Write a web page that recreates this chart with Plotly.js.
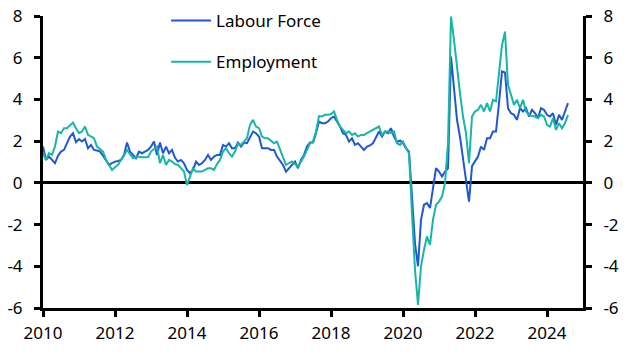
<!DOCTYPE html>
<html>
<head>
<meta charset="utf-8">
<script src="https://cdn.plot.ly/plotly-3.0.1.min.js"></script>
<style>
html,body{margin:0;padding:0;background:#fff;}
#chart{width:629px;height:355px;}
</style>
</head>
<body>
<div id="chart"></div>
<script>
// Monthly series, first observation January 2010
var startYear = 2010;
var seriesNames = ["Labour Force", "Employment"];
var tickYears = [2010, 2012, 2014, 2016, 2018, 2020, 2022, 2024];
var yTicks = [-6, -4, -2, 0, 2, 4, 6, 8];

var labourForce = [
1.74,1.1,1.26,1.1,0.94,1.3,1.5,1.58,1.9,2.22,2.38,1.95,
2.1,1.98,2.1,1.66,1.82,1.58,1.55,1.5,1.3,1.1,0.86,0.95,
1.02,1.05,1.1,1.34,1.93,1.5,1.34,1.18,1.5,1.42,1.5,1.58,
1.74,1.98,1.34,1.93,1.42,1.74,1.42,1.58,1.2,1.02,1.1,0.94,
0.62,0.46,0.62,1.02,0.86,0.94,1.1,1.34,1.1,1.26,1.34,1.34,
1.82,1.74,1.9,1.66,1.66,1.93,1.74,1.93,1.9,2.22,2.46,2.38,
2.22,1.66,1.66,1.66,1.58,1.58,1.26,1.05,0.86,0.54,0.7,0.86,
1.02,0.7,1.1,1.34,1.74,1.93,1.93,2.38,2.94,2.86,2.86,2.94,
3.1,3.18,2.94,2.7,2.38,2.3,1.98,2.14,1.82,1.9,1.74,1.58,
1.74,1.8,1.9,2.22,2.46,2.22,2.46,2.38,2.62,2.22,1.95,2.03,
1.9,1.66,1.5,-0.66,-2.9,-4.0,-1.77,-1.05,-0.97,-1.21,-0.18,0.7,
0.54,0.3,0.54,0.7,6.05,4.62,3.02,2.2,1.1,0.14,-0.9,0.8,
1.0,1.26,1.74,1.58,2.14,2.14,2.46,2.46,3.82,5.34,5.29,3.58,
3.34,3.26,3.02,3.58,3.42,3.58,3.18,3.5,3.34,3.1,3.58,3.5,
3.26,3.18,3.34,2.78,3.26,3.02,3.42,3.82
];

var employment = [
1.42,1.1,1.42,1.34,1.74,2.46,2.38,2.62,2.62,2.75,2.89,2.62,
2.38,2.46,2.7,2.3,2.2,2.14,1.74,1.6,1.5,1.1,0.85,0.62,
0.75,0.86,1.1,1.3,1.58,1.4,1.18,1.26,1.23,1.23,1.23,1.23,
1.5,1.62,1.74,0.94,1.34,0.86,1.1,1.02,0.9,0.86,0.7,0.54,
-0.1,0.3,0.7,0.54,0.54,0.54,0.62,0.7,0.7,0.62,0.9,1.1,
1.5,1.66,1.42,1.26,1.5,1.87,1.82,1.98,2.14,2.78,3.02,2.7,
2.62,2.22,2.14,2.14,2.0,1.9,1.98,1.58,1.18,0.86,0.94,1.02,
0.9,0.78,1.02,1.26,1.58,1.9,1.98,2.46,3.2,3.18,3.26,3.26,
3.3,3.42,3.02,2.7,2.54,2.38,2.46,2.3,2.38,2.22,2.3,2.3,
2.38,2.46,2.54,2.62,2.7,2.3,2.46,2.46,2.38,2.46,1.9,1.82,
1.98,1.66,1.42,-1.5,-4.17,-5.85,-4.0,-3.21,-2.57,-2.97,-1.77,-1.05,
-0.9,-0.66,0,1.9,7.97,6.86,5.42,4.3,3.18,2.38,0.94,3.18,
3.42,3.5,3.74,3.42,3.82,3.42,3.98,3.9,5.26,6.6,7.25,4.7,
4.22,3.74,3.98,3.58,3.98,3.42,3.26,3.2,3.18,3.1,3.26,3.18,
2.78,2.7,3.1,2.54,2.86,2.62,2.86,3.26
];

var fontFamily = '"Noto Sans", "Open Sans", sans-serif';

var traces = [
  {
    type: 'scatter', mode: 'lines', name: seriesNames[0],
    x0: startYear, dx: 1/12, y: labourForce,
    line: {color: '#2356d2', width: 2},
    legend: 'legend', yaxis: 'y'
  },
  {
    type: 'scatter', mode: 'lines', name: seriesNames[1],
    x0: startYear, dx: 1/12, y: employment,
    line: {color: '#17b6a6', width: 2},
    legend: 'legend2', yaxis: 'y2'
  }
];

var axisCommon = {
  range: [-6, 8], tickvals: yTicks, ticktext: yTicks.map(String),
  showgrid: false, showline: true, linecolor: '#000', linewidth: 3,
  ticks: 'outside', ticklen: 6, tickwidth: 3, tickcolor: '#000',
  ticklabelstandoff: 8,
  tickfont: {family: fontFamily, size: 17, color: '#000'},
  fixedrange: true, automargin: false
};

var legendCommon = {
  xref: 'paper', yref: 'paper', xanchor: 'left', yanchor: 'middle',
  bgcolor: 'rgba(0,0,0,0)', borderwidth: 0,
  font: {family: fontFamily, size: 17, color: '#000'},
  itemwidth: 40
};

var layout = {
  width: 629, height: 355,
  margin: {l: 43, r: 46, t: 16, b: 47, autoexpand: false},
  paper_bgcolor: '#fff', plot_bgcolor: '#fff',
  font: {family: fontFamily, size: 17, color: '#000'},
  showlegend: true,
  legend: Object.assign({}, legendCommon, {x: 0.228, y: 0.983}),
  legend2: Object.assign({}, legendCommon, {x: 0.228, y: 0.842}),
  xaxis: {
    range: [2010, 2025], tickvals: tickYears, ticktext: tickYears.map(String),
    showgrid: false, zeroline: false, showline: true, linecolor: '#000', linewidth: 3,
    ticks: 'outside', ticklen: 6, tickwidth: 3, tickcolor: '#000',
    ticklabelstandoff: 2,
    tickfont: {family: fontFamily, size: 17, color: '#000'},
    fixedrange: true, automargin: false
  },
  yaxis: Object.assign({}, axisCommon, {
    side: 'left', zeroline: true, zerolinecolor: '#000', zerolinewidth: 3
  }),
  yaxis2: Object.assign({}, axisCommon, {
    side: 'right', overlaying: 'y', anchor: 'x', zeroline: false
  })
};

Plotly.newPlot('chart', traces, layout, {displayModeBar: false, staticPlot: true});
</script>
</body>
</html>
